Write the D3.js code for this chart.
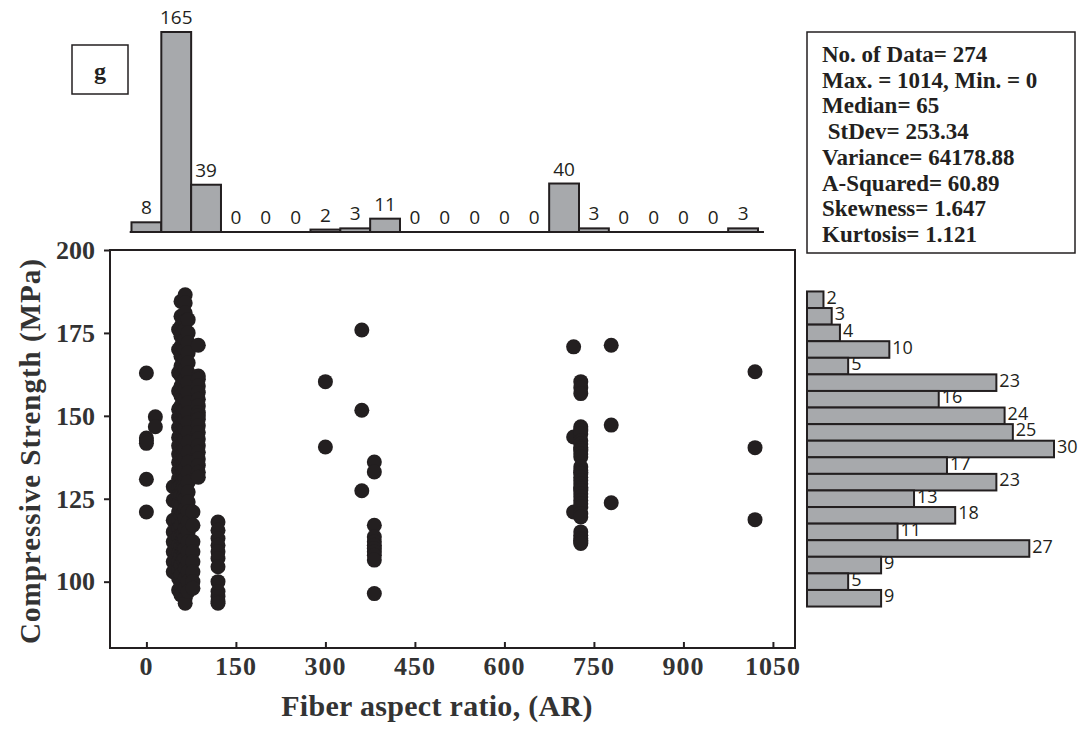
<!DOCTYPE html>
<html>
<head>
<meta charset="utf-8">
<script src="https://cdn.jsdelivr.net/npm/d3@7"></script>
<style>
  body { margin: 0; background: #fff; }
  svg { display: block; }
</style>
</head>
<body>
<div id="chart"></div>
<script>
// top histogram: fiber aspect ratio bins (centres) and counts
var arBins = [0, 50, 100, 150, 200, 250, 300, 350, 400, 450, 500, 550, 600, 650, 700, 750, 800, 850, 900, 950, 1000];
var arCounts = [8, 165, 39, 0, 0, 0, 2, 3, 11, 0, 0, 0, 0, 0, 40, 3, 0, 0, 0, 0, 3];

// right histogram: compressive strength bins (centres) and counts
var csBins = [185, 180, 175, 170, 165, 160, 155, 150, 145, 140, 135, 130, 125, 120, 115, 110, 105, 100, 95];
var csCounts = [2, 3, 4, 10, 5, 23, 16, 24, 25, 30, 17, 23, 13, 18, 11, 27, 9, 5, 9];

var xTicks = [0, 150, 300, 450, 600, 750, 900, 1050];
var yTicks = [100, 125, 150, 175, 200];

// scatter: one aspect ratio per column, strengths
var colAR = [0, 15, 45, 54, 58, 62, 65, 70, 78, 87, 120, 300, 361, 382, 716, 728, 779, 1020];
var colCS = [
  [162.9, 143.3, 142.5, 141.7, 130.9, 121],
  [149.7, 146.7],
  [128.6, 124.5, 118.5, 115, 112, 109, 106, 103],
  [176, 170, 163, 157.5, 152, 149.5, 146.5, 143.5, 141, 138.5, 136, 133.5, 131, 128.5, 126, 123.5, 121, 118.5, 116, 113.5, 111, 108.5, 106, 103.5, 101, 97.5],
  [184.5, 180, 177, 174, 171, 168, 165, 162, 159, 156, 153, 150, 147, 144, 141, 138, 135, 132, 129, 126, 123, 120, 117, 114, 111, 108, 105, 102, 99, 96],
  [140.5, 141.5, 142.5, 143.5, 139.5, 138.5, 137.5, 144.5, 145.5, 146.5, 147.5, 148.5, 149.5, 150.5, 151.5, 136.5, 135.5, 134.5, 133.5, 132.5, 131.5, 130.5, 129.5, 128.5, 108.5, 109.5, 110.5, 111.5, 112.5, 107.5, 106.5, 113.5, 114.5, 160.5, 155.5, 165.5, 170.5, 175.5, 120.5, 125.5],
  [186.5, 184, 181, 178.5, 176, 173, 170, 167, 164, 161, 158, 155, 152, 149, 146, 143, 140, 137, 134, 131, 128, 125, 122, 119, 116, 113, 110, 107, 104, 101, 98, 95, 93.5],
  [179, 175, 172, 169, 166, 163, 160, 157, 154, 151, 148, 145, 142, 139, 136, 133, 130, 127, 124, 121, 118, 115, 112, 109, 106, 103, 100, 97],
  [121, 117, 112, 109, 106, 103, 100, 98],
  [171.3, 162, 161, 159, 157, 155, 153, 151, 150, 149, 147, 145, 143, 141, 139, 137, 135, 133, 131.5],
  [118, 115.5, 113, 111, 109, 107, 104.5, 100, 97, 95.5, 94, 93.5],
  [160.3, 140.6],
  [175.9, 151.7, 127.4],
  [136.1, 133.1, 117, 113.5, 112, 111, 110, 109, 108, 106.5, 96.4],
  [170.8, 143.6, 121],
  [160.3, 158.5, 156.7, 146.7, 146, 145.5, 144.5, 142.5, 141.5, 140.5, 140, 139.5, 138.5, 137.6, 134.6, 133.5, 133, 132.5, 131.5, 130.5, 129.5, 128.5, 128, 127.5, 126.5, 125.5, 124.5, 123.5, 122.5, 120.5, 119.5, 115, 114, 113, 112.5, 112, 111.5],
  [171.3, 147.2, 123.8],
  [163.3, 140.4, 118.7]
];

var stats = ["No. of Data= 274", "Max. = 1014, Min. = 0", "Median= 65", " StDev= 253.34",
  "Variance= 64178.88", "A-Squared= 60.89", "Skewness= 1.647", "Kurtosis= 1.121"];

var W = 1088, H = 731;
var ink = "#231f20", barFill = "#a7a9ac";
var serif = "'Liberation Serif', 'Times New Roman', serif";
var sans = "'Open Sans', 'Noto Sans', sans-serif";

var svg = d3.select("#chart").append("svg")
  .attr("width", W).attr("height", H);

var plot = { left: 110, right: 795, top: 250, bottom: 648 };

var x = d3.scaleLinear().domain([-61, 1087]).range([plot.left, plot.right]);
var y = d3.scaleLinear().domain([80, 200]).range([plot.bottom, plot.top]);

// ---- main frame
svg.append("rect")
  .attr("x", plot.left).attr("y", plot.top)
  .attr("width", plot.right - plot.left).attr("height", plot.bottom - plot.top)
  .attr("fill", "none").attr("stroke", ink).attr("stroke-width", 2);

// x axis (ticks point inward)
var xAxis = svg.append("g")
  .attr("transform", "translate(0," + plot.bottom + ")")
  .call(d3.axisTop(x).tickValues(xTicks).tickSize(6).tickFormat(""));
xAxis.select(".domain").remove();
xAxis.selectAll("line").attr("stroke", ink).attr("stroke-width", 2);

svg.append("g").selectAll("text")
  .data(xTicks).enter().append("text")
  .attr("x", function (d) { return x(d); })
  .attr("y", 675)
  .attr("text-anchor", "middle")
  .attr("font-family", serif).attr("font-weight", "bold").attr("font-size", 26)
  .attr("letter-spacing", 1)
  .attr("fill", "#333")
  .text(function (d) { return d; });

// y axis (ticks point outward)
var yAxis = svg.append("g")
  .attr("transform", "translate(" + plot.left + ",0)")
  .call(d3.axisLeft(y).tickValues(yTicks).tickSize(6).tickPadding(9));
yAxis.select(".domain").remove();
yAxis.selectAll("line").attr("stroke", ink).attr("stroke-width", 2);
yAxis.selectAll("text")
  .attr("font-family", serif).attr("font-weight", "bold").attr("font-size", 26)
  .attr("fill", "#333");

// axis titles
svg.append("text")
  .attr("x", 437).attr("y", 716)
  .attr("text-anchor", "middle")
  .attr("font-family", serif).attr("font-weight", "bold").attr("font-size", 30)
  .attr("letter-spacing", 0.3)
  .attr("fill", "#333")
  .text("Fiber aspect ratio, (AR)");

svg.append("text")
  .attr("transform", "translate(40,451) rotate(-90)")
  .attr("text-anchor", "middle")
  .attr("font-family", serif).attr("font-weight", "bold").attr("font-size", 29)
  .attr("letter-spacing", 1)
  .attr("fill", "#333")
  .text("Compressive Strength (MPa)");

// ---- scatter points
var pts = [];
colAR.forEach(function (ar, i) {
  colCS[i].forEach(function (cs) { pts.push([ar, cs]); });
});

svg.append("g").selectAll("circle")
  .data(pts).enter().append("circle")
  .attr("cx", function (d) { return x(d[0]); })
  .attr("cy", function (d) { return y(d[1]); })
  .attr("r", 7.5)
  .attr("fill", ink);

// ---- top histogram
var binW = 50;
var hy = d3.scaleLinear().domain([0, 165]).range([232, 32]);

svg.append("line")
  .attr("x1", x(-28)).attr("x2", x(1035))
  .attr("y1", hy(0)).attr("y2", hy(0))
  .attr("stroke", ink).attr("stroke-width", 2);

var topBars = svg.append("g");
arBins.forEach(function (b, i) {
  var c = arCounts[i];
  if (c > 0) {
    topBars.append("rect")
      .attr("x", x(b - binW / 2)).attr("y", hy(c))
      .attr("width", x(b + binW / 2) - x(b - binW / 2))
      .attr("height", Math.max(hy(0) - hy(c), 1))
      .attr("fill", barFill).attr("stroke", ink).attr("stroke-width", 2);
  }
  topBars.append("text")
    .attr("x", x(b)).attr("y", hy(c) - 8)
    .attr("text-anchor", "middle")
    .attr("font-family", sans).attr("font-size", 19)
    .attr("fill", ink)
    .text(c);
});

// ---- right histogram
var hx = d3.scaleLinear().domain([0, 30]).range([807, 1054]);
var binH = 5;
var rightBars = svg.append("g");
csBins.forEach(function (b, i) {
  var c = csCounts[i];
  rightBars.append("rect")
    .attr("x", hx(0)).attr("y", y(b + binH / 2))
    .attr("width", hx(c) - hx(0))
    .attr("height", y(b - binH / 2) - y(b + binH / 2))
    .attr("fill", barFill).attr("stroke", ink).attr("stroke-width", 2);
  rightBars.append("text")
    .attr("x", hx(c) + 3).attr("y", y(b) + 4)
    .attr("font-family", sans).attr("font-size", 18)
    .attr("fill", ink)
    .text(c);
});

// ---- panel letter box
svg.append("rect")
  .attr("x", 72).attr("y", 45).attr("width", 56).attr("height", 49)
  .attr("fill", "#fff").attr("stroke", ink).attr("stroke-width", 1.5);
svg.append("text")
  .attr("x", 100).attr("y", 79)
  .attr("text-anchor", "middle")
  .attr("font-family", serif).attr("font-weight", "bold").attr("font-size", 24)
  .attr("fill", ink)
  .text("g");

// ---- statistics box
svg.append("rect")
  .attr("x", 807).attr("y", 32).attr("width", 268).attr("height", 221)
  .attr("fill", "#fff").attr("stroke", ink).attr("stroke-width", 1.5);
svg.append("g").selectAll("text")
  .data(stats).enter().append("text")
  .attr("x", 822)
  .attr("y", function (d, i) { return 62 + i * 25.7; })
  .attr("font-family", serif).attr("font-weight", "bold").attr("font-size", 23)
  .attr("fill", ink)
  .attr("xml:space", "preserve")
  .style("white-space", "pre")
  .text(function (d) { return d; });
</script>
</body>
</html>
